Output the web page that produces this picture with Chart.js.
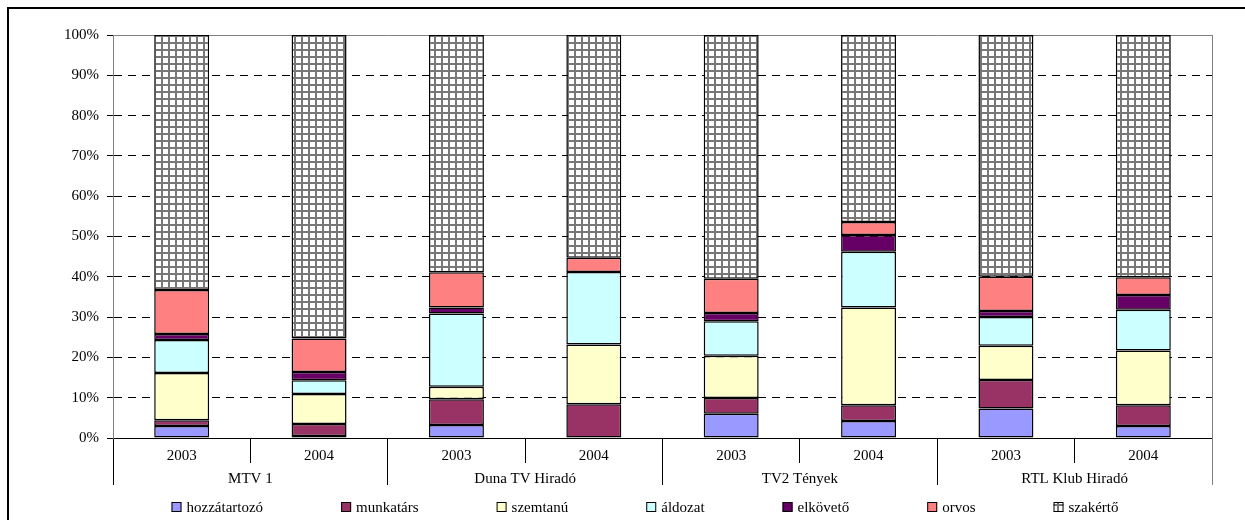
<!DOCTYPE html>
<html>
<head>
<meta charset="utf-8">
<script src="https://cdn.jsdelivr.net/npm/chart.js@4.4.0/dist/chart.umd.min.js"></script>
<style>
  html, body { margin: 0; padding: 0; background: #fff; }
  #wrap { width: 1245px; height: 520px; position: relative; }
</style>
</head>
<body>
<div id="wrap"><canvas id="mycanvas"></canvas></div>
<script>
// categories
var years = ['2003', '2004', '2003', '2004', '2003', '2004', '2003', '2004'];
var channels = ['MTV 1', 'Duna TV Hiradó', 'TV2 Tények', 'RTL Klub Hiradó'];

// series (percent of appearances, bottom to top)
var hozzatartozo = [3.0, 0.5, 3.2, 0, 6.0, 4.2, 7.3, 3.0];
var munkatars    = [1.4, 3.0, 6.4, 8.4, 3.9, 3.9, 7.1, 5.1];
var szemtanu     = [11.7, 7.4, 3.1, 14.8, 10.5, 24.3, 8.5, 13.6];
var aldozat      = [8.2, 3.4, 18.2, 18.0, 8.6, 13.8, 7.1, 10.1];
var elkoveto     = [1.5, 2.1, 1.5, 0, 2.0, 4.2, 1.5, 3.7];
var orvos        = [10.9, 8.3, 8.7, 3.5, 8.5, 3.2, 8.5, 4.4];
var szakerto     = [63.3, 75.3, 58.9, 55.3, 60.5, 46.4, 60.0, 60.1];

// y ticks
var yMax = 100;
var yStep = 10;

var FONT = '"Liberation Serif", "Times New Roman", serif';
Chart.defaults.font.family = FONT;
Chart.defaults.font.size = 15;
Chart.defaults.color = '#000';

// grey grid pattern used by the "szakértő" segments
function gridPattern() {
  var c = document.createElement('canvas');
  c.width = 7; c.height = 7;
  var g = c.getContext('2d');
  g.fillStyle = '#fff';
  g.fillRect(0, 0, 7, 7);
  g.fillStyle = '#777';
  g.fillRect(0, 0, 7, 2);
  g.fillRect(0, 0, 2, 7);
  return g.createPattern(c, 'repeat');
}

function ds(label, data, color) {
  return {
    label: label,
    data: data,
    backgroundColor: color,
    borderColor: '#000',
    borderWidth: function(c) { return c.raw ? 1.5 : 0; },
    borderSkipped: false,
    categoryPercentage: 1.0,
    barPercentage: 0.4
  };
}

var chartdata = {
  labels: years,
  datasets: [
    ds('hozzátartozó', hozzatartozo, '#9999FF'),
    ds('munkatárs', munkatars, '#993366'),
    ds('szemtanú', szemtanu, '#FFFFCC'),
    ds('áldozat', aldozat, '#CCFFFF'),
    ds('elkövető', elkoveto, '#660066'),
    ds('orvos', orvos, '#FF8080'),
    ds('szakértő', szakerto, gridPattern())
  ]
};

// legend drawn under the axes, items separated by a fixed gap
var bottomLegend = {
  id: 'bottomLegend',
  afterDraw: function(chart) {
    var ctx = chart.ctx;
    var box = 10, tgap = 5, gap = 78;
    ctx.save();
    ctx.font = '15px ' + FONT;
    ctx.textBaseline = 'middle';
    var items = chart.data.datasets.map(function(d) {
      return { text: d.label, fill: d.backgroundColor, w: box + tgap + ctx.measureText(d.label).width };
    });
    var total = gap * (items.length - 1);
    items.forEach(function(it) { total += it.w; });
    var x = 645 - total / 2;
    var y = 507;
    items.forEach(function(it) {
      ctx.fillStyle = it.fill;
      ctx.fillRect(x, y - 5, box, box);
      ctx.strokeStyle = '#000';
      ctx.lineWidth = 1;
      ctx.strokeRect(x + 0.5, y - 4.5, box - 1, box - 1);
      ctx.fillStyle = '#000';
      ctx.fillText(it.text, x + box + tgap, y + 1);
      x += it.w + gap;
    });
    ctx.restore();
  }
};

// outer frame and the grey right edge of the plot area
var frame = {
  id: 'frame',
  afterDraw: function(chart) {
    var ctx = chart.ctx, a = chart.chartArea;
    ctx.save();
    ctx.strokeStyle = '#808080';
    ctx.lineWidth = 1;
    ctx.beginPath();
    ctx.moveTo(Math.round(a.right) + 0.5, a.top);
    ctx.lineTo(Math.round(a.right) + 0.5, 485);
    ctx.stroke();
    ctx.strokeStyle = '#000';
    ctx.lineWidth = 2;
    ctx.strokeRect(8, 8, 1400, 700);
    ctx.restore();
  }
};

var ctx = document.getElementById('mycanvas');

var barGraph = new Chart(ctx, {
  type: 'bar',
  data: chartdata,
  plugins: [bottomLegend, frame],
  options: {
    responsive: true,
    maintainAspectRatio: false,
    animation: false,
    layout: { padding: { top: 35, left: 60, right: 33, bottom: 25 } },
    plugins: {
      legend: { display: false },
      tooltip: { enabled: false }
    },
    scales: {
      x: {
        stacked: true,
        weight: 0,
        grid: { offset: true, drawOnChartArea: false, color: '#000', tickLength: 25 },
        border: { color: '#000' },
        ticks: { padding: -16, maxRotation: 0, autoSkip: false },
        afterFit: function(s) { s.height = 25; }
      },
      x2: {
        type: 'category',
        labels: channels,
        position: 'bottom',
        weight: 1,
        offset: true,
        grid: { offset: true, drawOnChartArea: false, color: '#000', tickLength: 22 },
        border: { display: false },
        ticks: { padding: -15, maxRotation: 0, autoSkip: false },
        afterFit: function(s) { s.height = 32; }
      },
      y: {
        stacked: true,
        min: 0,
        max: yMax,
        ticks: {
          stepSize: yStep,
          padding: 8,
          callback: function(v) { return v + '%'; }
        },
        grid: {
          color: function(c) { return c.tick && c.tick.value === yMax ? '#808080' : '#000'; },
          tickColor: '#000',
          tickLength: 6
        },
        border: {
          color: '#808080',
          dash: function(c) { return c.tick && c.tick.value === yMax ? [] : [8, 6]; }
        },
        afterFit: function(s) { s.width = 53; }
      }
    }
  }
});
</script>
</body>
</html>
